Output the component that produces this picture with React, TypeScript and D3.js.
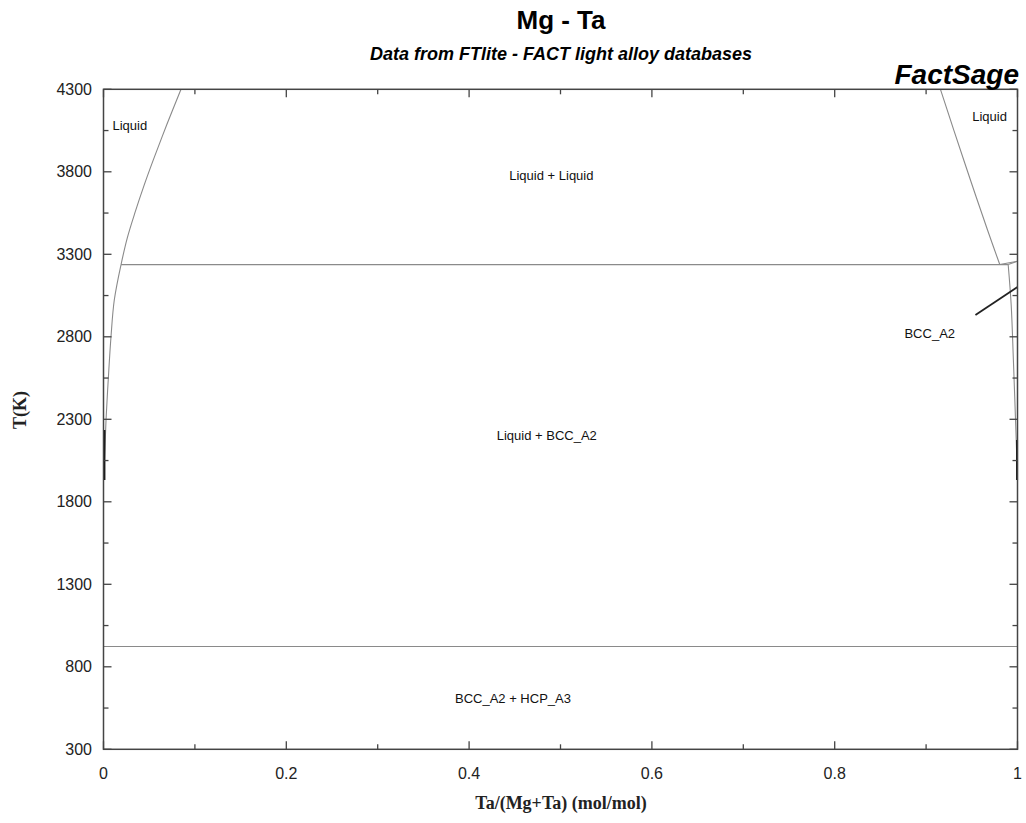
import React, { useEffect, useRef } from "react";
import * as d3 from "d3";

const W = 1026;
const H = 823;
const M = { left: 103.5, right: 1017.5, top: 89.3, bottom: 749.3 };

const yMajorTicks = [300, 800, 1300, 1800, 2300, 2800, 3300, 3800, 4300];
const yMinorTicks = [550, 1050, 1550, 2050, 2550, 3050, 3550, 4050];
const xMajorTicks = [0, 0.2, 0.4, 0.6, 0.8, 1];
const xMinorTicks = [0.1, 0.3, 0.5, 0.7, 0.9];
const xTickLabels = ["0", "0.2", "0.4", "0.6", "0.8", "1"];

// Mg-rich liquid (miscibility gap, above monotectic)
const liquid1Upper: [number, number][] = [
  [0.0192, 3238], [0.0259, 3397], [0.0347, 3557], [0.0443, 3716], [0.0547, 3875], [0.0694, 4088], [0.0848, 4300],
];
// Mg-rich liquid below monotectic (Liquid / Liquid + BCC boundary)
const liquid1Lower: [number, number][] = [
  [0.0192, 3238], [0.0118, 3023], [0.0082, 2800], [0.0053, 2550], [0.0028, 2300], [0.0015, 2114], [0.0, 1932],
];
// Ta-rich liquid (miscibility gap)
const liquid2: [number, number][] = [
  [0.9157, 4300], [0.9303, 4053], [0.9486, 3749], [0.9672, 3447], [0.9806, 3238],
];
// Ta liquidus / solidus above monotectic
const taLiquidus: [number, number][] = [[0.9806, 3238], [1.0, 3258]];
const taSolidus: [number, number][] = [[0.9898, 3238], [1.0, 3258]];
// BCC solvus on Ta side
const bccBoundary: [number, number][] = [
  [0.9898, 3238], [0.9931, 2993], [0.9955, 2659], [0.9986, 2174], [1.0, 1932],
];
const leftDark: [number, number][] = [[0.001, 2235], [0.001, 1932]];
const rightDark: [number, number][] = [[0.9995, 2174], [0.9995, 1932]];
const monotecticT = 3238;
const monotecticX = [0.0192, 0.9898];
const eutecticT = 923;
const eutecticX = [0, 1];
const pointer: [number, number][] = [[0.954, 2932], [1.0, 3102]];

const regionLabels = [
  { text: "Liquid", x: 0.0098, T: 4080, anchor: "start" },
  { text: "Liquid", x: 0.9505, T: 4135, anchor: "start" },
  { text: "Liquid + Liquid", x: 0.49, T: 3780, anchor: "middle" },
  { text: "BCC_A2", x: 0.904, T: 2820, anchor: "middle" },
  { text: "Liquid + BCC_A2", x: 0.485, T: 2200, anchor: "middle" },
  { text: "BCC_A2 + HCP_A3", x: 0.448, T: 610, anchor: "middle" },
];

export default function App() {
  const ref = useRef<SVGSVGElement>(null);
  useEffect(() => {
    const svg = d3.select(ref.current);
    svg.selectAll("*").remove();
    const x = d3.scaleLinear().domain([0, 1]).range([M.left, M.right]);
    const y = d3.scaleLinear().domain([300, 4300]).range([M.bottom, M.top]);
    const line = d3.line<[number, number]>().x((d) => x(d[0])).y((d) => y(d[1])).curve(d3.curveCatmullRom);
    const straight = d3.line<[number, number]>().x((d) => x(d[0])).y((d) => y(d[1]));

    svg.append("rect").attr("width", W).attr("height", H).attr("fill", "#fff");

    const g = svg.append("g");
    const grey = "#8a8a8a";
    const curves: [number, number][][] = [liquid1Upper, liquid1Lower, liquid2, bccBoundary];
    curves.forEach((c) =>
      g.append("path").attr("d", line(c)!).attr("fill", "none").attr("stroke", grey).attr("stroke-width", 1.1)
    );
    [taLiquidus, taSolidus].forEach((c) =>
      g.append("path").attr("d", straight(c)!).attr("fill", "none").attr("stroke", grey).attr("stroke-width", 1.1)
    );
    g.append("line")
      .attr("x1", x(monotecticX[0])).attr("x2", x(monotecticX[1]))
      .attr("y1", y(monotecticT)).attr("y2", y(monotecticT))
      .attr("stroke", grey).attr("stroke-width", 1.2);
    g.append("line")
      .attr("x1", x(eutecticX[0])).attr("x2", x(eutecticX[1]))
      .attr("y1", y(eutecticT)).attr("y2", y(eutecticT))
      .attr("stroke", grey).attr("stroke-width", 1.2);
    [leftDark, rightDark].forEach((c) =>
      g.append("path").attr("d", straight(c)!).attr("stroke", "#111").attr("stroke-width", 2)
    );
    g.append("path").attr("d", straight(pointer)!).attr("stroke", "#222").attr("stroke-width", 1.8);

    // frame
    svg.append("rect")
      .attr("x", M.left).attr("y", M.top)
      .attr("width", M.right - M.left).attr("height", M.bottom - M.top)
      .attr("fill", "none").attr("stroke", "#444").attr("stroke-width", 1.5);

    const tk = svg.append("g").attr("stroke", "#444").attr("stroke-width", 1.3);
    const addY = (ticks: number[], len: number) =>
      ticks.forEach((t) => {
        tk.append("line").attr("x1", M.left).attr("x2", M.left + len).attr("y1", y(t)).attr("y2", y(t));
        tk.append("line").attr("x1", M.right).attr("x2", M.right - len).attr("y1", y(t)).attr("y2", y(t));
      });
    const addX = (ticks: number[], len: number) =>
      ticks.forEach((t) => {
        tk.append("line").attr("x1", x(t)).attr("x2", x(t)).attr("y1", M.bottom).attr("y2", M.bottom - len);
        tk.append("line").attr("x1", x(t)).attr("x2", x(t)).attr("y1", M.top).attr("y2", M.top + len);
      });
    addY(yMajorTicks, 8);
    addY(yMinorTicks, 5);
    addX(xMajorTicks, 8);
    addX(xMinorTicks, 5);

    const font = "Arial, 'Liberation Sans', sans-serif";
    yMajorTicks.forEach((t) =>
      svg.append("text").attr("x", 92).attr("y", y(t)).attr("dy", "0.35em")
        .attr("text-anchor", "end").attr("font-family", font).attr("font-size", 16).attr("fill", "#222").text(String(t))
    );
    xMajorTicks.forEach((t, i) =>
      svg.append("text").attr("x", x(t)).attr("y", 773).attr("dy", "0.35em")
        .attr("text-anchor", "middle").attr("font-family", font).attr("font-size", 16).attr("fill", "#222").text(xTickLabels[i])
    );

    regionLabels.forEach((l) =>
      svg.append("text").attr("x", x(l.x)).attr("y", y(l.T)).attr("dy", "0.35em")
        .attr("text-anchor", l.anchor).attr("font-family", font).attr("font-size", 13).attr("fill", "#111").text(l.text)
    );

    svg.append("text").attr("x", 561).attr("y", 29).attr("text-anchor", "middle")
      .attr("font-family", font).attr("font-weight", "bold").attr("font-size", 26).attr("fill", "#000").text("Mg - Ta");
    svg.append("text").attr("x", 561).attr("y", 60).attr("text-anchor", "middle")
      .attr("font-family", font).attr("font-weight", "bold").attr("font-style", "italic").attr("font-size", 18)
      .attr("fill", "#000").text("Data from FTlite - FACT light alloy databases");
    svg.append("text").attr("x", 1019).attr("y", 84).attr("text-anchor", "end")
      .attr("font-family", font).attr("font-weight", "bold").attr("font-style", "italic").attr("font-size", 28)
      .attr("fill", "#000").text("FactSage");

    const serif = "'Times New Roman', 'Liberation Serif', serif";
    svg.append("text").attr("transform", "translate(26,410) rotate(-90)").attr("text-anchor", "middle")
      .attr("font-family", serif).attr("font-weight", "bold").attr("font-size", 18).attr("fill", "#222").text("T(K)");
    svg.append("text").attr("x", 561).attr("y", 809).attr("text-anchor", "middle")
      .attr("font-family", serif).attr("font-weight", "bold").attr("font-size", 18).attr("fill", "#222")
      .text("Ta/(Mg+Ta) (mol/mol)");
  }, []);
  return (
    <svg ref={ref} width={W} height={H} style={{ position: "absolute", left: 0, top: 0, display: "block" }} />
  );
}
